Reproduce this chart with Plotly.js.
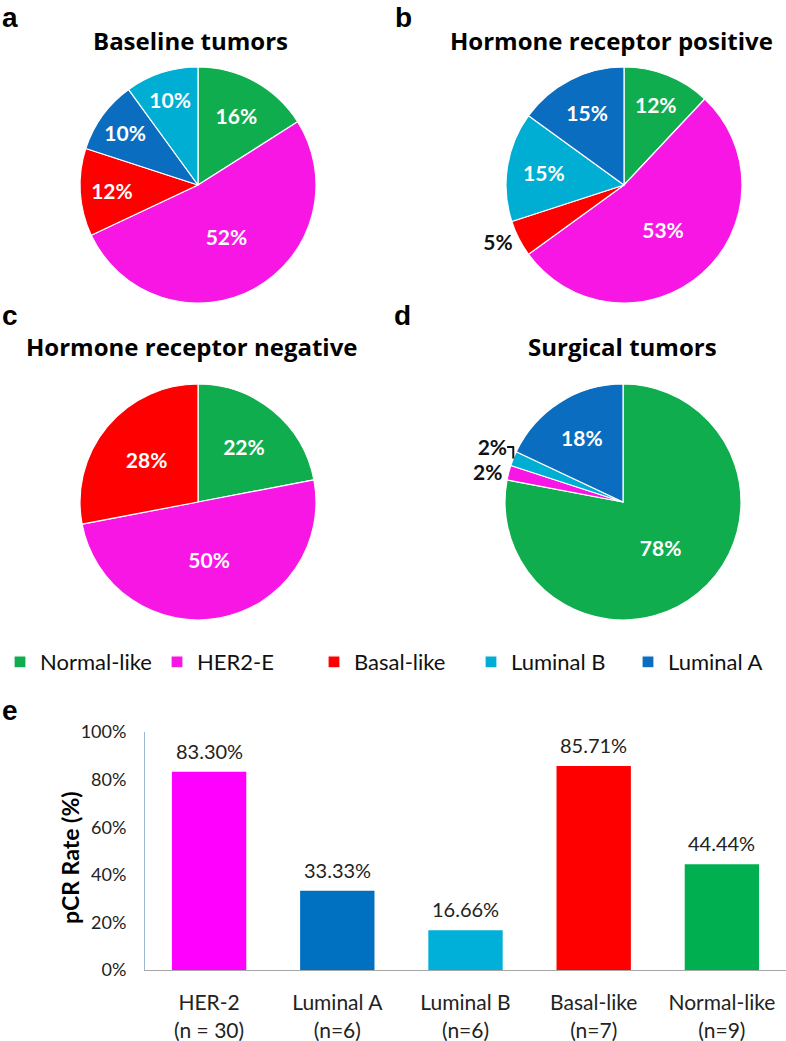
<!DOCTYPE html>
<html>
<head>
<meta charset="utf-8">
<script src="https://cdn.plot.ly/plotly-3.0.1.min.js"></script>
<style>
  body { margin: 0; background: #fff; }
  #plot { width: 786px; height: 1041px; }
</style>
</head>
<body>
<div id="plot"></div>
<script>
// subtype colours
const subtypeColors = {
    "Normal-like": "#10ad4f",
    "HER2-E": "#f716e3",
    "Basal-like": "#ff0000",
    "Luminal B": "#00aed4",
    "Luminal A": "#0a6dbf"
};

// pie a - baseline tumors
const baseLabels = ["Normal-like", "HER2-E", "Basal-like", "Luminal A", "Luminal B"];
const baseValues = [16, 52, 12, 10, 10];

// pie b - hormone receptor positive
const posLabels = ["Normal-like", "HER2-E", "Basal-like", "Luminal B", "Luminal A"];
const posValues = [12, 53, 5, 15, 15];

// pie c - hormone receptor negative
const negLabels = ["Normal-like", "HER2-E", "Basal-like"];
const negValues = [22, 50, 28];

// pie d - surgical tumors
const surgLabels = ["Normal-like", "HER2-E", "Luminal B", "Luminal A"];
const surgValues = [78, 2, 2, 18];

// panel e - pCR rate by subtype
const barSubtypes = ["HER-2", "Luminal A", "Luminal B", "Basal-like", "Normal-like"];
const barCounts = ["(n = 30)", "(n=6)", "(n=6)", "(n=7)", "(n=9)"];
const pcrRate = [83.30, 33.33, 16.66, 85.71, 44.44];
const barColors = ["#ff00ff", "#0070c0", "#00b0d8", "#ff0000", "#00b050"];

const W = 786, H = 1041;
const px = v => v / W;
const py = v => 1 - v / H;

const textFont = "Lato, 'Open Sans', sans-serif";
const titleFont = "'Open Sans', Lato, sans-serif";

function makePie(labels, values, cx, cy, r, positions, legend) {
    return {
        type: "pie",
        labels: labels,
        values: values,
        sort: false,
        direction: "clockwise",
        rotation: 0,
        marker: {
            colors: labels.map(l => subtypeColors[l]),
            line: { color: "#ffffff", width: 1.2 }
        },
        texttemplate: "%{value}%",
        textposition: positions || "inside",
        insidetextorientation: "horizontal",
        insidetextfont: { family: textFont, size: 21, color: "#ffffff", weight: 700 },
        outsidetextfont: { family: textFont, size: 21, color: "#111111", weight: 700 },
        domain: { x: [px(cx - r), px(cx + r)], y: [py(cy + r), py(cy - r)] },
        showlegend: legend,
        hoverinfo: "skip"
    };
}

let pieA = makePie(baseLabels, baseValues, 198, 185, 118, null, false);
let pieB = makePie(posLabels, posValues, 624, 185, 118,
    ["inside", "inside", "outside", "inside", "inside"], true);
let pieC = makePie(negLabels, negValues, 198, 502, 118, null, false);
let pieD = makePie(surgLabels, surgValues, 623, 502, 118,
    ["inside", "outside", "outside", "inside"], false);

let barTrace = {
    type: "bar",
    x: barSubtypes,
    y: pcrRate,
    marker: { color: barColors },
    width: 0.58,
    showlegend: false,
    hoverinfo: "skip",
    xaxis: "x",
    yaxis: "y"
};

let data = [pieA, pieB, pieC, pieD, barTrace];

// titles and panel letters
let annotations = [];
function title(text, x, y) {
    annotations.push({
        text: text, xref: "paper", yref: "paper", x: px(x), y: py(y),
        xanchor: "center", yanchor: "middle", showarrow: false,
        font: { family: titleFont, size: 24, color: "#000", weight: 700 }
    });
}
title("Baseline tumors", 190, 40);
title("Hormone receptor positive", 611, 40);
title("Hormone receptor negative", 192, 347);
title("Surgical tumors", 622, 347);

function letter(text, x, y) {
    annotations.push({
        text: text, xref: "paper", yref: "paper", x: px(x), y: py(y),
        xanchor: "left", yanchor: "top", showarrow: false,
        font: { family: "'Liberation Sans', Arial, sans-serif", size: 28, color: "#000", weight: 700 }
    });
}
letter("a", 0, 0);
letter("b", 393, 0);
letter("c", 0, 298);
letter("d", 392, 298);
letter("e", 0, 693);

// bar value labels
barSubtypes.forEach((s, i) => {
    annotations.push({
        text: pcrRate[i].toFixed(2) + "%", x: s, y: pcrRate[i], xref: "x", yref: "y",
        yanchor: "middle", yshift: 21, showarrow: false,
        font: { family: textFont, size: 20, color: "#222" }
    });
});

// y axis title
annotations.push({
    text: "pCR Rate (%)", xref: "paper", yref: "paper", x: px(70), y: py(858),
    textangle: -90, xanchor: "center", yanchor: "middle", showarrow: false,
    font: { family: textFont, size: 23, color: "#000", weight: 700 }
});

let layout = {
    width: W,
    height: H,
    margin: { l: 0, r: 0, t: 0, b: 0 },
    paper_bgcolor: "#ffffff",
    plot_bgcolor: "#ffffff",
    showlegend: true,
    legend: {
        orientation: "h",
        x: 0, y: py(662), xanchor: "left", yanchor: "middle",
        font: { family: textFont, size: 22, color: "#111" },
        traceorder: "normal",
        itemwidth: 30,
        entrywidth: 112,
        entrywidthmode: "pixels",
        tracegroupgap: 0
    },
    xaxis: {
        domain: [px(145), 1],
        range: [-0.5, 4.5],
        tickmode: "array",
        tickvals: barSubtypes,
        ticktext: barSubtypes.map((s, i) => s + "<br>" + barCounts[i]),
        tickfont: { family: textFont, size: 21, color: "#222" },
        showline: true,
        linecolor: "#a6a6a6",
        linewidth: 1,
        ticks: "",
        ticklabelstandoff: 14,
        showgrid: false,
        zeroline: false,
        fixedrange: true
    },
    yaxis: {
        domain: [py(970), py(732)],
        range: [0, 100],
        dtick: 20,
        ticksuffix: "%",
        tickfont: { family: textFont, size: 18, color: "#222" },
        showline: true,
        linecolor: "#9bb7d4",
        linewidth: 1,
        ticks: "",
        ticklabelstandoff: 14,
        showgrid: false,
        zeroline: false,
        fixedrange: true
    },
    annotations: annotations
};

Plotly.newPlot("plot", data, layout, { staticPlot: true });
</script>
</body>
</html>
